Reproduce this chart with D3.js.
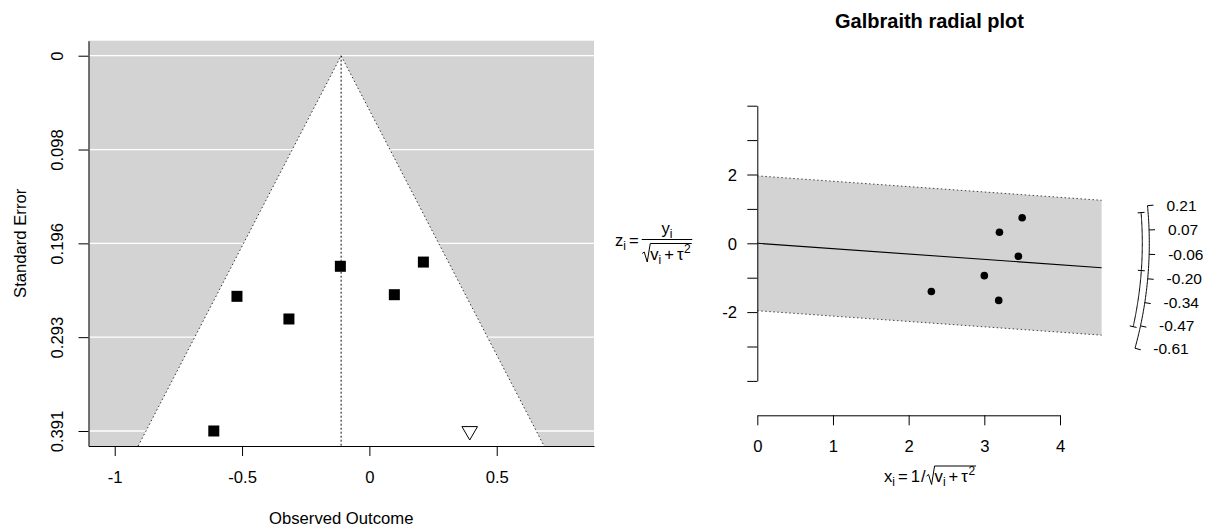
<!DOCTYPE html>
<html><head><meta charset="utf-8">
<script src="https://cdn.jsdelivr.net/npm/d3@7"></script>
<style>
html,body{margin:0;padding:0;background:#fff;}
svg{display:block;font-family:"Liberation Sans",Arial,Helvetica,sans-serif;}
</style></head><body>
<svg id="c" width="1220" height="530"></svg>
<script>
// ---------- Funnel plot data ----------
const studyYi  = [-0.114, 0.212, -0.520, 0.098, -0.316, -0.611];
const studySei = [0.2194, 0.215, 0.2507, 0.249, 0.2743, 0.391];
const filledYi  = [0.394];
const filledSei = [0.391];
const funnelEstimate = -0.111;
const funnelXTicks = [-1, -0.5, 0, 0.5];
const funnelXTickLabels = ["-1", "-0.5", "0", "0.5"];
const funnelYTicks = [0, 0.09775, 0.1955, 0.29325, 0.391];
const funnelYTickLabels = ["0", "0.098", "0.196", "0.293", "0.391"];

// ---------- Radial plot data ----------
const radialX = [3.45, 3.50, 3.19, 3.20, 3.00, 2.30];
const radialZ = [-0.378, 0.744, -1.66, 0.32, -0.94, -1.40];
const radialEstimate = -0.156;
const radialCI = [-0.488, 0.176];
const radialXMax = 4.55;
const radialXTicks = [0, 1, 2, 3, 4];
const radialZTicks = [-4, -3, -2, -1, 0, 1, 2, 3, 4];
const radialZTickLabels = ["", "", "-2", "", "0", "", "2", "", ""];
const arcValues = [0.212, 0.075, -0.062, -0.200, -0.337, -0.474, -0.611];
const arcLabels = ["0.21", "0.07", "-0.06", "-0.20", "-0.34", "-0.47", "-0.61"];

const svg = d3.select("#c");
const FS = 16.67;
const dotted = "1.5,2.5";

// ================= FUNNEL =================
const fx = d3.scaleLinear().domain([-1.103, 0.882]).range([88.5, 594]);
const fy = d3.scaleLinear().domain([-0.01564, 0.40664]).range([40.7, 446]);
const fg = svg.append("g");
const yMax = fy.domain()[1];

fg.append("rect").attr("x", fx.range()[0]).attr("y", fy.range()[0])
  .attr("width", fx.range()[1]-fx.range()[0]).attr("height", fy.range()[1]-fy.range()[0])
  .attr("fill", "#d3d3d3");
fg.selectAll("line.grid").data(funnelYTicks).enter().append("line")
  .attr("x1", fx.range()[0]).attr("x2", fx.range()[1])
  .attr("y1", d => fy(d)).attr("y2", d => fy(d))
  .attr("stroke", "#fff").attr("stroke-width", 1.3);
const funnelPts = [[funnelEstimate - 1.96*yMax, yMax], [funnelEstimate, 0], [funnelEstimate + 1.96*yMax, yMax]];
fg.append("polygon").attr("points", funnelPts.map(p => [fx(p[0]), fy(p[1])].join(",")).join(" "))
  .attr("fill", "#fff");
fg.append("path").attr("d", d3.line().x(p => fx(p[0])).y(p => fy(p[1]))(funnelPts))
  .attr("fill", "none").attr("stroke", "#333").attr("stroke-width", 1).attr("stroke-dasharray", dotted);
fg.append("line").attr("x1", fx(funnelEstimate)).attr("x2", fx(funnelEstimate))
  .attr("y1", fy(0)).attr("y2", fy(yMax))
  .attr("stroke", "#111").attr("stroke-width", 1).attr("stroke-dasharray", "2,2");

// axes
const axL = fg.append("g").attr("transform", `translate(${fx.range()[0]},0)`)
  .call(d3.axisLeft(fy).tickValues(funnelYTicks).tickFormat((d,i) => funnelYTickLabels[i]).tickSize(10).tickSizeOuter(0));
const axB = fg.append("g").attr("transform", `translate(0,${fy.range()[1]})`)
  .call(d3.axisBottom(fx).tickValues(funnelXTicks).tickFormat((d,i) => funnelXTickLabels[i]).tickSize(10).tickSizeOuter(0));
[axL, axB].forEach(a => { a.attr("font-size", null).attr("font-family", null);
  a.selectAll("path,line").attr("stroke", "#000").attr("stroke-width", 1); });
axL.selectAll("text").attr("x", 0).attr("y", 0).attr("dy", null).attr("text-anchor", "middle")
  .attr("font-size", FS).attr("fill", "#000").attr("transform", "translate(-25.5,0) rotate(-90)");
axB.selectAll("text").attr("y", 36.7).attr("dy", null).attr("font-size", FS).attr("fill", "#000");

// points
fg.selectAll("rect.pt").data(studyYi).enter().append("rect")
  .attr("x", (d,i) => fx(d) - 5.5).attr("y", (d,i) => fy(studySei[i]) - 5.5)
  .attr("width", 11).attr("height", 11).attr("fill", "#000");
fg.selectAll("path.fill").data(filledYi).enter().append("path")
  .attr("d", (d,i) => { const x = fx(d), y = fy(filledSei[i]);
    return `M${x-7.8},${y-4.4}L${x+7.8},${y-4.4}L${x},${y+9}Z`; })
  .attr("fill", "#fff").attr("stroke", "#000").attr("stroke-width", 1);

fg.append("text").attr("x", (fx.range()[0]+fx.range()[1])/2).attr("y", 524)
  .attr("text-anchor", "middle").attr("font-size", FS).text("Observed Outcome");
fg.append("text").attr("transform", `translate(26,${(fy.range()[0]+fy.range()[1])/2}) rotate(-90)`)
  .attr("text-anchor", "middle").attr("font-size", FS).text("Standard Error");

// ================= RADIAL =================
const rx = d3.scaleLinear().domain([0, 4]).range([757.3, 1060]);
const rz = d3.scaleLinear().domain([-4, 4]).range([380.9, 105.7]);
const rg = svg.append("g");

const band = [[0, 1.96], [radialXMax, 1.96 + radialEstimate*radialXMax],
              [radialXMax, -1.96 + radialEstimate*radialXMax], [0, -1.96]];
rg.append("polygon").attr("points", band.map(p => [rx(p[0]), rz(p[1])].join(",")).join(" "))
  .attr("fill", "#d3d3d3");
[1.96, -1.96].forEach(off => {
  rg.append("line").attr("x1", rx(0)).attr("y1", rz(off))
    .attr("x2", rx(radialXMax)).attr("y2", rz(off + radialEstimate*radialXMax))
    .attr("stroke", "#444").attr("stroke-width", 1).attr("stroke-dasharray", dotted);
});
rg.append("line").attr("x1", rx(0)).attr("y1", rz(0))
  .attr("x2", rx(radialXMax)).attr("y2", rz(radialEstimate*radialXMax))
  .attr("stroke", "#000").attr("stroke-width", 1.1);

rg.selectAll("circle").data(radialX).enter().append("circle")
  .attr("cx", d => rx(d)).attr("cy", (d,i) => rz(radialZ[i])).attr("r", 3.8).attr("fill", "#000");

const ayL = rg.append("g").attr("transform", `translate(${rx(0)},0)`)
  .call(d3.axisLeft(rz).tickValues(radialZTicks).tickFormat((d,i) => radialZTickLabels[i]).tickSize(10).tickSizeOuter(0));
const axR = rg.append("g").attr("transform", `translate(0,415.3)`)
  .call(d3.axisBottom(rx).tickValues(radialXTicks).tickFormat(d3.format("d")).tickSize(10).tickSizeOuter(0));
[ayL, axR].forEach(a => { a.attr("font-size", null).attr("font-family", null);
  a.selectAll("path,line").attr("stroke", "#000").attr("stroke-width", 1); });
ayL.selectAll("text").attr("x", -20.3).attr("y", 5.8).attr("dy", null).attr("font-size", FS).attr("fill", "#000");
axR.selectAll("text").attr("y", 36.7).attr("dy", null).attr("font-size", FS).attr("fill", "#000");

// arcs
const cx0 = rx(0), cy0 = rz(0), ux = rx(1) - rx(0), uz = rz(0) - rz(1);
function posAt(v, R) { const n = Math.hypot(ux, v*uz); return [cx0 + R*ux/n, cy0 - R*v*uz/n]; }
const arcLine = d3.line();
const R1 = 392, R2 = 385;
const outerSamples = d3.range(0, 101).map(k => arcValues[arcValues.length-1] + (arcValues[0]-arcValues[arcValues.length-1])*k/100);
rg.append("path").attr("d", arcLine(outerSamples.map(v => posAt(v, R1))))
  .attr("fill", "none").attr("stroke", "#000").attr("stroke-width", 1);
arcValues.forEach((v, i) => {
  const a = posAt(v, R1), b = posAt(v, R1 + 6);
  rg.append("line").attr("x1", a[0]).attr("y1", a[1]).attr("x2", b[0]).attr("y2", b[1])
    .attr("stroke", "#000").attr("stroke-width", 1);
  rg.append("text").attr("x", posAt(v, R1 + 19)[0]).attr("y", a[1] + 5.5)
    .attr("font-size", 15.5).text(arcLabels[i]);
});
const innerSamples = d3.range(0, 101).map(k => radialCI[0] + (radialCI[1]-radialCI[0])*k/100);
rg.append("path").attr("d", arcLine(innerSamples.map(v => posAt(v, R2))))
  .attr("fill", "none").attr("stroke", "#000").attr("stroke-width", 1);
[radialCI[0], radialEstimate, radialCI[1]].forEach(v => {
  const a = posAt(v, R2 - 3.5), b = posAt(v, R2 + 3.5);
  rg.append("line").attr("x1", a[0]).attr("y1", a[1]).attr("x2", b[0]).attr("y2", b[1])
    .attr("stroke", "#000").attr("stroke-width", 1);
});

rg.append("text").attr("x", 929.5).attr("y", 28.3).attr("text-anchor", "middle")
  .attr("font-size", 20).attr("font-weight", "bold").text("Galbraith radial plot");

// ---------- math labels ----------
function layout(g, x, base, runs) {
  let cx = x; const placed = [];
  runs.forEach(r => {
    cx += r.pre || 0;
    let w;
    if (r.sqrt) { w = 8; placed.push({x0: cx, x1: cx + w, sqrt: true}); }
    else {
      const t = g.append("text").attr("x", cx).attr("y", base + (r.dy || 0))
        .attr("font-size", r.fs || FS).text(r.t);
      w = t.node().getComputedTextLength();
      placed.push({x0: cx, x1: cx + w});
    }
    cx += w + (r.post || 0);
  });
  return {x0: x, x1: cx, placed};
}
function drawSqrt(g, x0, x1, base) {
  const top = base - 16;
  g.append("path").attr("d", `M${x0},${base-6}L${x0+2},${base-7.5}L${x0+5},${base+2.5}L${x0+8},${top}L${x1+1},${top}`)
    .attr("fill", "none").attr("stroke", "#000").attr("stroke-width", 1);
}
const radicand = [
  {t: "v"}, {t: "i", fs: 12, dy: 4},
  {t: "+", pre: 3, post: 3}, {t: "τ"}, {t: "2", fs: 12, dy: -7, pre: 0.5}
];

// x label
const xl = svg.append("g");
const xr = layout(xl, 0, 482, [
  {t: "x"}, {t: "i", fs: 12, dy: 4},
  {t: "=", pre: 3, post: 3}, {t: "1"}, {t: "/", pre: 1, post: 1}, {sqrt: true}
].concat(radicand));
const sq = xr.placed.find(p => p.sqrt);
drawSqrt(xl, sq.x0, xr.x1, 482);
xl.attr("transform", `translate(${930 - (xr.x1 + 1)/2},0)`);

// y label
const yl = svg.append("g");
const yr = layout(yl, 615, 246, [{t: "z"}, {t: "i", fs: 12, dy: 4}, {t: "=", pre: 3, post: 3}]);
const fracX = yr.x1;
const numG = yl.append("g"), denG = yl.append("g");
const nr = layout(numG, 0, 233.5, [{t: "y"}, {t: "i", fs: 12, dy: 4}]);
const dr = layout(denG, 0, 259.5, [{sqrt: true}].concat(radicand));
drawSqrt(denG, 0, dr.x1, 259.5);
const fw = Math.max(nr.x1, dr.x1 + 1) + 1;
numG.attr("transform", `translate(${fracX + (fw - nr.x1)/2},0)`);
denG.attr("transform", `translate(${fracX + (fw - dr.x1 - 1)/2},0)`);
yl.append("line").attr("x1", fracX).attr("x2", fracX + fw).attr("y1", 239.5).attr("y2", 239.5)
  .attr("stroke", "#000").attr("stroke-width", 1);
</script>
</body></html>
